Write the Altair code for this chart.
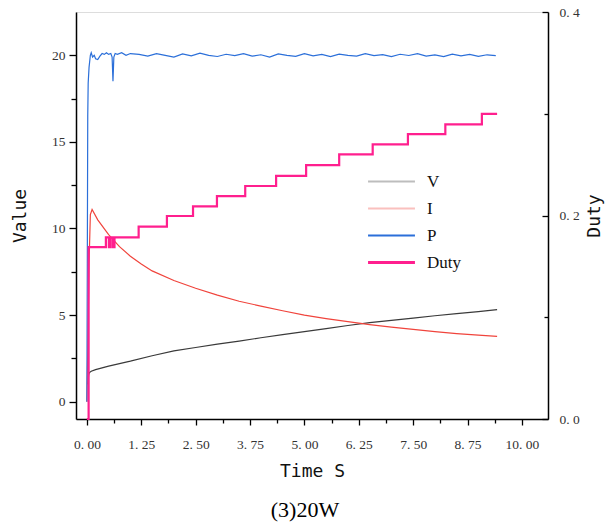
import altair as alt
import pandas as pd

# ---- data ----
series_order = ["V", "I", "P", "Duty"]

t_v = [0.02, 0.04, 0.06, 0.1, 0.2, 0.35, 0.5, 0.75, 1.0, 1.5, 2.0, 2.5, 3.0, 3.5,
       4.0, 4.5, 5.0, 5.5, 6.0, 6.5, 7.0, 7.5, 8.0, 8.5, 9.0, 9.43]
v_vals = [1.0, 1.55, 1.68, 1.76, 1.85, 1.95, 2.05, 2.2, 2.34, 2.65, 2.93, 3.13, 3.32, 3.5,
          3.69, 3.87, 4.05, 4.22, 4.4, 4.56, 4.7, 4.83, 4.96, 5.08, 5.2, 5.32]

t_i = [0.0, 0.02, 0.05, 0.08, 0.12, 0.25, 0.5, 0.75, 1.0, 1.25, 1.5, 2.0, 2.5, 3.0, 3.5,
       4.0, 4.5, 5.0, 5.5, 6.0, 6.5, 7.0, 7.5, 8.0, 8.5, 9.0, 9.43]
i_vals = [0.0, 3.0, 8.0, 10.8, 11.1, 10.5, 9.65, 8.95, 8.4, 7.95, 7.55, 7.0, 6.55, 6.15, 5.8,
          5.52, 5.25, 5.0, 4.8, 4.62, 4.45, 4.3, 4.17, 4.04, 3.93, 3.84, 3.77]

t_p = [0.0, 0.01, 0.02, 0.03, 0.05, 0.08, 0.1, 0.13, 0.17, 0.2, 0.25, 0.3, 0.35, 0.4, 0.45,
       0.5, 0.55, 0.58, 0.6, 0.62, 0.65, 0.7, 0.8, 0.9, 1.0,
       1.2, 1.4, 1.6, 1.8, 2.0, 2.2, 2.4, 2.6, 2.8, 3.0, 3.2, 3.4, 3.6, 3.8, 4.0, 4.2, 4.4,
       4.6, 4.8, 5.0, 5.2, 5.4, 5.6, 5.8, 6.0, 6.2, 6.4, 6.6, 6.8, 7.0, 7.2, 7.4, 7.6, 7.8,
       8.0, 8.2, 8.4, 8.6, 8.8, 9.0, 9.2, 9.4]
p_vals = [0.0, 8.0, 16.5, 18.4, 19.3, 20.0, 20.15, 19.9, 20.0, 19.8, 19.75, 19.95, 20.1, 20.05, 20.15,
          20.05, 20.1, 19.9, 18.5, 19.9, 20.1, 20.05, 20.15, 20.0, 20.1,
          20.05, 19.95, 20.1, 20.0, 19.9, 20.08, 19.97, 20.12, 20.0, 19.93, 20.06, 19.98, 20.1, 19.95,
          20.03, 19.9, 20.08, 20.0, 19.94, 20.1, 19.97, 20.05, 19.92, 20.07, 20.0, 19.95, 20.1, 19.98,
          20.04, 19.93, 20.06, 19.99, 20.1, 19.95, 20.02, 19.92, 20.07, 19.97, 20.05, 19.94, 20.03, 19.98]

t_duty = [0.0, 0.04, 0.437, 0.505, 0.543, 0.597, 0.635, 1.19, 1.84, 2.44, 2.99, 3.64, 4.35,
          5.04, 5.80, 6.57, 7.38, 8.24, 9.08, 9.43]
duty_vals = [0.0, 0.169, 0.1785, 0.169, 0.1785, 0.169, 0.1785, 0.189, 0.1995, 0.209, 0.219, 0.229,
             0.239, 0.2496, 0.260, 0.270, 0.280, 0.2896, 0.2998, 0.2998]

line_colors = ["#3a3a3a", "#f0443c", "#2b6fd9", "#ff1f8e"]

# ---- tables ----
df_left = pd.concat([
    pd.DataFrame({"t": t_v, "value": v_vals, "series": "V"}),
    pd.DataFrame({"t": t_i, "value": i_vals, "series": "I"}),
    pd.DataFrame({"t": t_p, "value": p_vals, "series": "P"}),
], ignore_index=True)
df_duty = pd.DataFrame({"t": t_duty, "duty": duty_vals, "series": "Duty"})

x_ticks = [round(k * 0.625, 3) for k in range(17)]
y_ticks = [k * 2.5 for k in range(9)]
d_ticks = [0.0, 0.1, 0.2, 0.3, 0.4]

label_font = "Liberation Serif"
title_font = "DejaVu Sans Mono"

x_enc = alt.X(
    "t:Q",
    scale=alt.Scale(domain=[-0.25, 10.6], nice=False, zero=False),
    axis=alt.Axis(
        values=x_ticks,
        labelExpr="abs(datum.value/1.25 - round(datum.value/1.25)) < 0.001 ? replace(format(datum.value, '.2f'), '.', '. ') : ''",
        title="Time S",
        grid=False,
        domainColor="black", domainWidth=1.5,
        tickColor="black", tickWidth=1.3,
        tickSize={"condition": {"test": "abs(datum.value/1.25 - round(datum.value/1.25)) < 0.001", "value": 6}, "value": 4},
        labelFont=label_font, labelFontSize=13.5, labelColor="#333",
        labelPadding=12, labelFlush=False, labelOverlap=False,
        titleFont=title_font, titleFontSize=18, titleFontWeight="normal", titleColor="#111",
        titlePadding=12,
    ),
)

color_enc = alt.Color(
    "series:N",
    scale=alt.Scale(domain=series_order, range=line_colors),
    legend=alt.Legend(
        title=None, orient="none", legendX=307, legendY=161,
        symbolType="stroke", symbolSize=2200,
        symbolOpacity=alt.ExprRef("datum.label == 'V' || datum.label == 'I' ? 0.33 : 1"),
        symbolStrokeWidth=alt.ExprRef("datum.label == 'Duty' ? 3 : 2"),
        labelFont=label_font, labelFontSize=17, labelColor="#111",
        labelOffset=27, rowPadding=9,
    ),
)

left = alt.Chart(df_left).mark_line(strokeWidth=1.2).encode(
    x=x_enc,
    y=alt.Y(
        "value:Q",
        scale=alt.Scale(domain=[-1, 22.5], nice=False, zero=False),
        axis=alt.Axis(
            values=y_ticks,
            labelExpr="datum.value % 5 == 0 ? datum.label : ''",
            title="Value", grid=False,
            domainColor="black", domainWidth=1.5,
            tickColor="black", tickWidth=1.3,
            tickSize={"condition": {"test": "datum.value % 5 == 0", "value": 7}, "value": 5},
            labelFont=label_font, labelFontSize=13.5, labelColor="#333", labelPadding=4,
            titleFont=title_font, titleFontSize=18, titleFontWeight="normal", titleColor="#111",
            titlePadding=22,
        ),
    ),
    color=color_enc,
)

right = alt.Chart(df_duty).mark_line(strokeWidth=2.2, interpolate="step-after").encode(
    x=x_enc,
    y=alt.Y(
        "duty:Q",
        scale=alt.Scale(domain=[0, 0.4], nice=False, zero=False),
        axis=alt.Axis(
            orient="right", values=d_ticks,
            labelExpr="round(datum.value*10) % 2 == 0 ? replace(format(datum.value, '.1f'), '.', '. ') : ''",
            title="Duty", grid=False, titleAngle=270, titleBaseline="top",
            domainColor="black", domainWidth=1.5,
            tickColor="black", tickWidth=1.3,
            tickSize={"condition": {"test": "round(datum.value*10) % 2 == 0", "value": -6}, "value": -4},
            labelFont=label_font, labelFontSize=13.5, labelColor="#333", labelPadding=17,
            titleFont=title_font, titleFontSize=18, titleFontWeight="normal", titleColor="#111",
            titlePadding=6,
        ),
    ),
    color=color_enc,
)

chart = alt.layer(left, right).resolve_scale(y="independent").properties(
    width=472, height=407,
    title=alt.TitleParams(
        "(3)20W", orient="bottom", font=label_font, fontSize=22, fontWeight="normal",
        color="black", offset=19, dx=-7,
    ),
    padding={"left": 76, "top": 12, "right": 60, "bottom": 113},
    autosize="none",
).configure_view(stroke=None).configure(background="white")

chart.save("out.html", embed_options={"renderer": "svg", "actions": False})
